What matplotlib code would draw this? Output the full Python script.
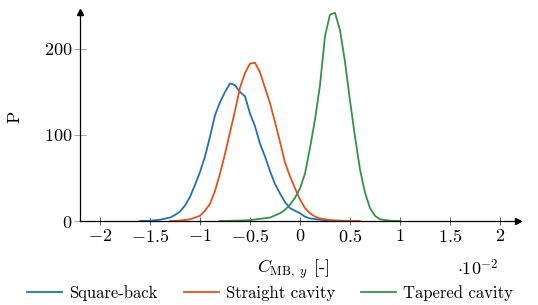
import matplotlib
matplotlib.use('Agg')
import matplotlib.pyplot as plt

plt.rcParams['mathtext.fontset'] = 'cm'
plt.rcParams['font.family'] = ['cmr10', 'DejaVu Serif']
plt.rcParams['axes.formatter.use_mathtext'] = True
plt.rcParams['font.size'] = 13

# C_MB,y values in units of 1e-2
x_square = [-1.6, -1.5, -1.4, -1.3, -1.25, -1.2, -1.15, -1.1, -1.05, -1.0, -0.95, -0.9,
            -0.85, -0.8, -0.75, -0.7, -0.65, -0.6, -0.55, -0.5, -0.45, -0.4, -0.35, -0.3,
            -0.25, -0.2, -0.15, -0.1, -0.05, 0.0, 0.05, 0.1, 0.2, 0.3, 0.5]
p_square = [0, 0.3, 1.5, 4, 7, 11, 18, 28, 42, 57, 75, 98,
            123, 138, 150, 160, 158, 150, 145, 125, 110, 90, 75, 58,
            43, 32, 22, 15, 12, 9, 5, 3, 1.5, 0.5, 0]

x_straight = [-1.3, -1.2, -1.1, -1.0, -0.95, -0.9, -0.85, -0.8, -0.75, -0.7, -0.65, -0.6,
              -0.55, -0.5, -0.45, -0.4, -0.35, -0.3, -0.25, -0.2, -0.15, -0.1, -0.05, 0.0,
              0.05, 0.1, 0.15, 0.2, 0.3, 0.4, 0.6]
p_straight = [0, 0.5, 2, 6, 12, 20, 35, 55, 78, 103, 128, 155,
              172, 183, 184, 173, 155, 137, 115, 92, 68, 52, 38, 25,
              15, 9, 5, 3, 1, 0.3, 0]

x_tapered = [-0.8, -0.6, -0.5, -0.4, -0.3, -0.2, -0.15, -0.1, -0.05, 0.0, 0.05, 0.1,
             0.15, 0.2, 0.25, 0.3, 0.35, 0.4, 0.45, 0.5, 0.55, 0.6, 0.65, 0.7,
             0.75, 0.8, 0.9, 1.0]
p_tapered = [0, 0.5, 1, 2.5, 4, 9, 13, 19, 27, 38, 55, 85,
             118, 158, 215, 240, 242, 222, 185, 140, 98, 60, 33, 15,
             6, 2, 0.3, 0]

labels = ['Square-back', 'Straight cavity', 'Tapered cavity']
colors = ['#1f72b8', '#e2531a', '#2e9645']
x_ticks = [-2, -1.5, -1, -0.5, 0, 0.5, 1, 1.5, 2]
y_ticks = [0, 100, 200]

fig = plt.figure(figsize=(5.38, 3.05), dpi=100)
ax = fig.add_axes([80 / 538, 84 / 305, 438 / 538, 209 / 305])

series = [(x_square, p_square), (x_straight, p_straight), (x_tapered, p_tapered)]
for (xs, ps), lab, col in zip(series, labels, colors):
    ax.plot(xs, ps, color=col, lw=1.3, label=lab)

ax.set_xlim(-2.2, 2.18)
ax.set_ylim(0, 243)
ax.set_xticks(x_ticks)
ax.set_xticklabels(['$%g$' % t if t >= 0 else '$-%g$' % abs(t) for t in x_ticks])
ax.set_yticks(y_ticks)
ax.set_yticklabels(['$%d$' % t for t in y_ticks])

for s in ['top', 'right']:
    ax.spines[s].set_visible(False)
for s in ['left', 'bottom']:
    ax.spines[s].set_linewidth(0.9)
ax.tick_params(axis='x', direction='inout', length=6, width=0.6, color='#444444', pad=2)
ax.tick_params(axis='y', direction='inout', length=9, width=0.6, color='#999999', pad=1)

# arrow heads at axis ends
ax.plot(1, 0, '>k', ms=4, transform=ax.transAxes, clip_on=False)
ax.plot(0, 1, '^k', ms=4, transform=ax.transAxes, clip_on=False)

ax.set_ylabel('P')
ax.yaxis.set_label_coords(-58 / 438, 0.5)
fig.text(293 / 538, 1 - 269 / 305, r'$C_{\mathrm{MB},\ y}$ [-]', ha='center', va='center')
fig.text(498 / 538, 1 - 268 / 305, r'$\cdot 10^{-2}$', ha='right', va='center')

fig.legend(loc='center', bbox_to_anchor=(270 / 538, 1 - 293 / 305), ncol=3, frameon=False,
           fontsize=12, handlelength=2.1, handletextpad=0.42, columnspacing=1.56,
           borderaxespad=0, borderpad=0)

fig.savefig('out.png', dpi=100)
